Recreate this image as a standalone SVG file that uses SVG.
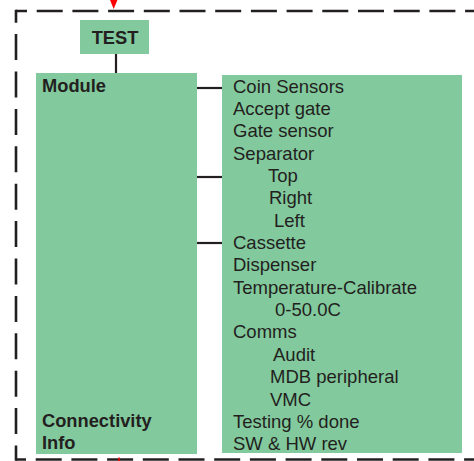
<svg xmlns="http://www.w3.org/2000/svg" width="474" height="461" viewBox="0 0 474 461">
<style>
.box{fill:#82c99d;}
.b{font-family:"Liberation Sans",Arial,sans-serif;font-weight:bold;font-size:18.3px;fill:#231f20;}
.t{font-family:"Liberation Sans",Arial,sans-serif;font-size:18.5px;fill:#231f20;}
.c{stroke:#231f20;stroke-width:2.2;fill:none;}
.d{stroke:#231f20;stroke-width:2.6;fill:none;}
</style>
<rect width="474" height="461" fill="#ffffff"/>
<g id="frame">
<line class="d" x1="16" y1="11" x2="480" y2="11" stroke-dasharray="26 9.7" stroke-dashoffset="15"/>
<line class="d" x1="16" y1="459.5" x2="480" y2="459.5" stroke-dasharray="26 9.7" stroke-dashoffset="16"/>
<line class="d" x1="16" y1="9.7" x2="16" y2="460.8" stroke-dasharray="26 11.4" stroke-dashoffset="13"/>
</g>
<g id="arrows">
<polygon points="110,0 117.4,0 113.7,9" fill="#ff0000"/>
<line x1="119" y1="457.5" x2="119" y2="461" stroke="#ff0000" stroke-width="1.5"/>
</g>
<g id="connectors">
<line class="c" x1="116" y1="54" x2="116" y2="73"/>
<line class="c" x1="197" y1="88" x2="222" y2="88"/>
<line class="c" x1="197" y1="177" x2="222" y2="177"/>
<line class="c" x1="197" y1="243" x2="222" y2="243"/>
</g>
<g id="test">
<rect class="box" x="80" y="20" width="69" height="34"/>
<text class="b" x="115" y="43.5" text-anchor="middle">TEST</text>
</g>
<g id="module">
<rect class="box" x="36" y="73" width="161" height="381"/>
<text class="b" x="42" y="92">Module</text>
<text class="b" x="42" y="427">Connectivity</text>
<text class="b" x="42" y="449">Info</text>
</g>
<g id="items">
<rect class="box" x="222" y="75" width="240" height="378"/>
<text class="t" x="233" y="92.5">Coin Sensors</text>
<text class="t" x="233" y="114.9">Accept gate</text>
<text class="t" x="233" y="137.2">Gate sensor</text>
<text class="t" x="233" y="159.5">Separator</text>
<text class="t" x="268" y="181.9">Top</text>
<text class="t" x="269" y="204.3">Right</text>
<text class="t" x="274" y="226.5">Left</text>
<text class="t" x="233" y="249">Cassette</text>
<text class="t" x="233" y="271.3">Dispenser</text>
<text class="t" x="233" y="293.7">Temperature-Calibrate</text>
<text class="t" x="275" y="316">0-50.0C</text>
<text class="t" x="233" y="338.4">Comms</text>
<text class="t" x="273" y="360.7">Audit</text>
<text class="t" x="270" y="383.1">MDB peripheral</text>
<text class="t" x="270" y="405.5">VMC</text>
<text class="t" x="233" y="427.8">Testing % done</text>
<text class="t" x="233" y="450">SW &amp; HW rev</text>
</g>
</svg>
